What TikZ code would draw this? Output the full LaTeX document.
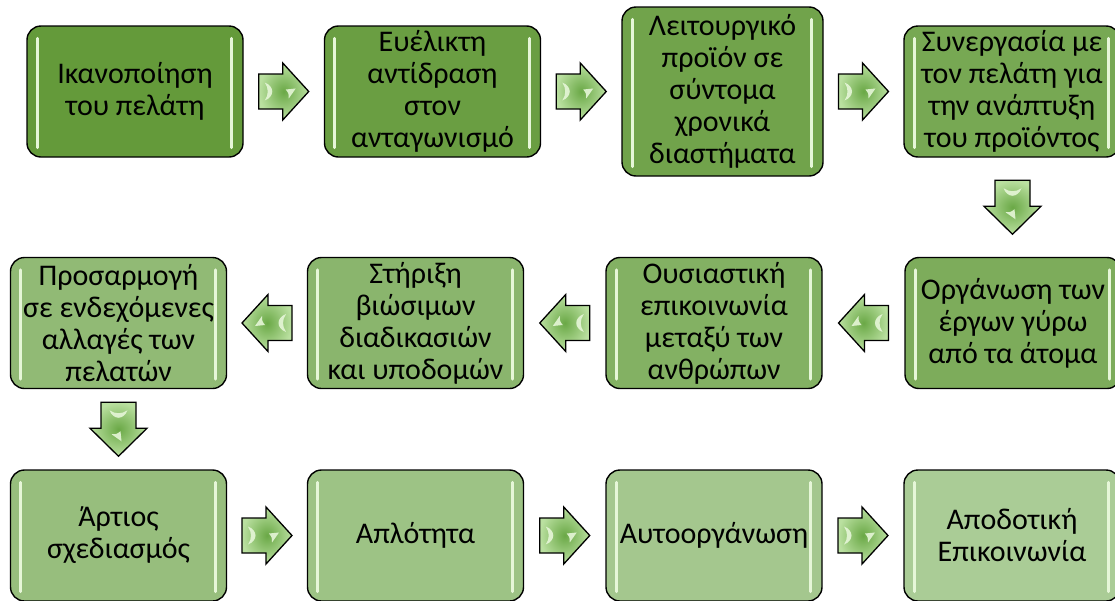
\documentclass[tikz,border=0pt]{standalone}
\usepackage{fontspec}
\setmainfont{Carlito}
\usetikzlibrary{calc}

% fill range of the stage boxes, dark to light
\definecolor{gA}{RGB}{100,154,58}
\definecolor{gB}{RGB}{170,204,150}
% block arrows
\definecolor{arIn}{RGB}{106,168,70}
\definecolor{arOut}{RGB}{186,224,160}
\definecolor{gloss}{RGB}{230,246,216}

\tikzset{
  stagebox/.style={draw=black, line width=1.4pt, rounded corners=14pt,
    fill=gB!#1!gA, minimum width=216pt, minimum height=131pt,
    align=center, font=\fontsize{30}{32}\selectfont, inner sep=0pt},
  flowarrow/.style={draw=black, line width=1.3pt, line join=miter,
    inner color=arIn, outer color=arOut},
  glossbar/.style={draw=gloss, line width=3pt, line cap=round},
  glint/.style={fill=gloss, opacity=0.9},
}

\begin{document}
\begin{tikzpicture}[x=1pt,y=-1pt]
\clip (0,0) rectangle (1115,600);

% first row, left to right
\node[stagebox=0] (b1) at (135,91.5) {Ικανοποίηση\\του πελάτη};
\node[stagebox=9] (b2) at (432.5,91.5) {Ευέλικτη\\αντίδραση\\στον\\ανταγωνισμό};
\node[stagebox=18, minimum width=201pt, minimum height=169pt] (b3) at (722.5,91.5)
  {Λειτουργικό\\προϊόν σε\\σύντομα\\χρονικά\\διαστήματα};
\node[stagebox=27] (b4) at (1012,91.5) {Συνεργασία με\\τον πελάτη για\\την ανάπτυξη\\του προϊόντος};

% second row, right to left
\node[stagebox=36] (b5) at (1013,323) {Οργάνωση των\\έργων γύρω\\από τα άτομα};
\node[stagebox=45] (b6) at (714,323) {Ουσιαστική\\επικοινωνία\\μεταξύ των\\ανθρώπων};
\node[stagebox=55] (b7) at (415.5,323) {Στήριξη\\βιώσιμων\\διαδικασιών\\και υποδομών};
\node[stagebox=64] (b8) at (118.5,323) {Προσαρμογή\\σε ενδεχόμενες\\αλλαγές των\\πελατών};

% third row, left to right
\node[stagebox=73] (b9) at (118.5,535.5) {Άρτιος\\σχεδιασμός};
\node[stagebox=82] (b10) at (415.5,535.5) {Απλότητα};
\node[stagebox=91] (b11) at (714,535.5) {Αυτοοργάνωση};
\node[stagebox=100] (b12) at (1012,535.5) {Αποδοτική\\Επικοινωνία};

% glossy edge highlights of the boxes
\foreach \n in {b1,b2,b3,b4,b5,b6,b7,b8,b9,b10,b11,b12}{
  \draw[glossbar] ($(\n.north west)+(11,13)$) -- ($(\n.south west)+(11,-10)$);
  \draw[glossbar] ($(\n.north east)+(-12,13)$) -- ($(\n.south east)+(-12,-10)$);
}

% centres of the block arrows between the stages
\coordinate (a1)  at ($(b1.east)!0.5!(b2.west)$);
\coordinate (a2)  at ($(b2.east)!0.5!(b3.west)$);
\coordinate (a3)  at ($(b3.east)!0.5!(b4.west)$);
\coordinate (a4)  at ($(b4.south)!0.5!(b5.north)$);
\coordinate (a5)  at ($(b5.west)!0.5!(b6.east)$);
\coordinate (a6)  at ($(b6.west)!0.5!(b7.east)$);
\coordinate (a7)  at ($(b7.west)!0.5!(b8.east)$);
\coordinate (a8)  at ($(b8.south)!0.5!(b9.north)$);
\coordinate (a9)  at ($(b9.east)!0.5!(b10.west)$);
\coordinate (a10) at ($(b10.east)!0.5!(b11.west)$);
\coordinate (a11) at ($(b11.east)!0.5!(b12.west)$);

% block arrows with their light glints, drawn pointing right and turned
\foreach \n/\a/\l in {a1/0/25,a2/0/25,a3/0/25,a4/-90/27,a5/180/25,a6/180/25,
                      a7/180/25,a8/-90/27,a9/0/25,a10/0/25,a11/0/25}{
  \begin{scope}[shift={(\n)}, rotate=\a]
    \draw[flowarrow] (-\l,-17.5) -- (-1,-17.5) -- (-1,-28.5) -- (\l,0)
                  -- (-1,28.5) -- (-1,17.5) -- (-\l,17.5) -- cycle;
    \fill[glint] (-19,-9) .. controls (-9,-5) and (-9,5) .. (-19,9)
                 .. controls (-15,3) and (-15,-3) .. (-19,-9);
    \fill[glint] (2,-2) -- (12,-3) -- (5,7) .. controls (5,2) .. (2,-2);
  \end{scope}
}
\end{tikzpicture}
\end{document}
